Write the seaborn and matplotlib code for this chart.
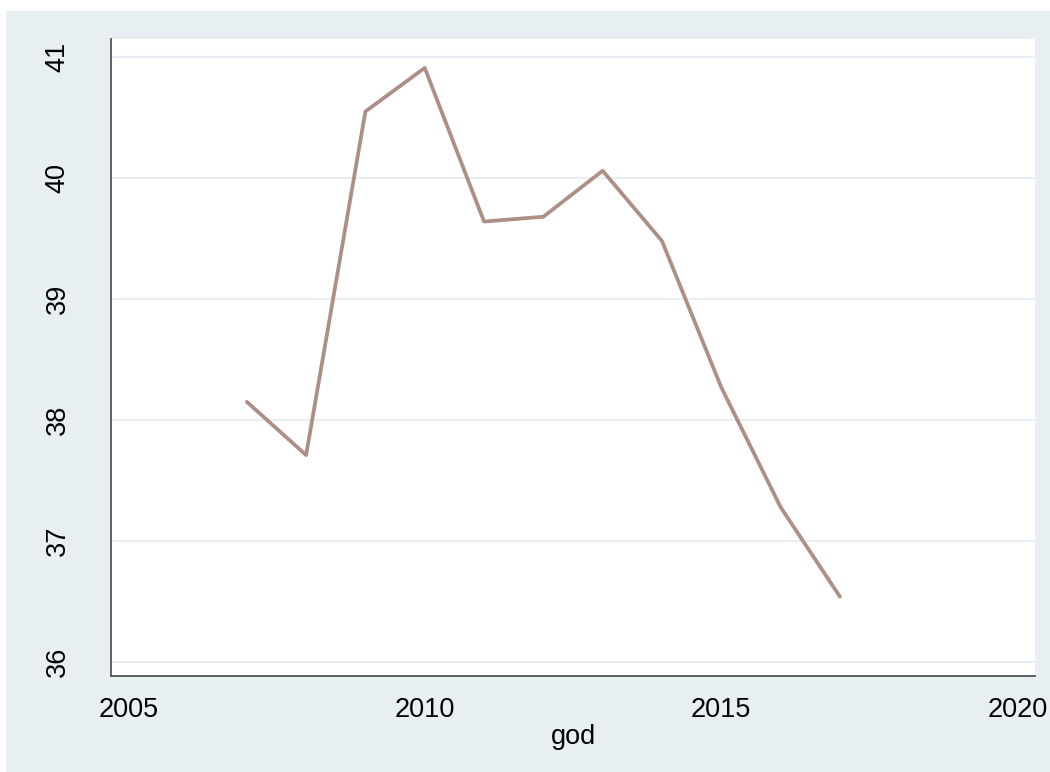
import matplotlib
matplotlib.use("Agg")
import matplotlib.pyplot as plt
import seaborn as sns
import pandas as pd

# Data
years = [2007, 2008, 2009, 2010, 2011, 2012, 2013, 2014, 2015, 2016, 2017]
values = [38.15, 37.71, 40.55, 40.91, 39.64, 39.68, 40.06, 39.48, 38.27, 37.28, 36.54]
x_ticks = [2005, 2010, 2015, 2020]
y_ticks = [36, 37, 38, 39, 40, 41]

df = pd.DataFrame({"god": years, "value": values})

sns.set_style("white")
plt.rcParams["font.family"] = ["Liberation Sans", "DejaVu Sans"]

bg = "#e8eff2"
fig = plt.figure(figsize=(10.5, 7.72), dpi=100)
fig.patch.set_facecolor(bg)
# thin white border on top and left, as in the Stata export
fig.patches.append(plt.Rectangle((0, 1 - 11 / 772), 1, 11 / 772, transform=fig.transFigure,
                                 facecolor="white", edgecolor="none", zorder=-10))
fig.patches.append(plt.Rectangle((0, 0), 6 / 1050, 1, transform=fig.transFigure,
                                 facecolor="white", edgecolor="none", zorder=-10))

ax = fig.add_axes([111 / 1050, 1 - 676 / 772, (1035 - 111) / 1050, (676 - 39) / 772])
ax.set_facecolor("white")

for yv in y_ticks:
    ax.axhline(yv, color=bg, linewidth=1.6, zorder=0)

sns.lineplot(data=df, x="god", y="value", ax=ax, color="#ad8f85", linewidth=2.7, zorder=3)

ax.set_xlim(2004.71, 2020.29)
ax.set_ylim(35.884, 41.149)
ax.set_xticks(x_ticks)
ax.set_yticks(y_ticks)
ax.set_xticklabels([str(t) for t in x_ticks])
ax.set_yticklabels([str(t) for t in y_ticks], rotation=90, va="center")

for s in ["top", "right"]:
    ax.spines[s].set_visible(False)
for s in ["left", "bottom"]:
    ax.spines[s].set_color("#555555")
    ax.spines[s].set_linewidth(1.3)

ax.tick_params(axis="both", direction="out", length=8, width=1.0, color="#555555",
               labelsize=19.5, labelcolor="black")
ax.tick_params(axis="x", pad=7)
ax.tick_params(axis="y", pad=21)

ax.set_xlabel("god", fontsize=19.5, labelpad=1, color="black")
ax.set_ylabel("")

fig.savefig("out.png", dpi=100, facecolor=fig.get_facecolor())
